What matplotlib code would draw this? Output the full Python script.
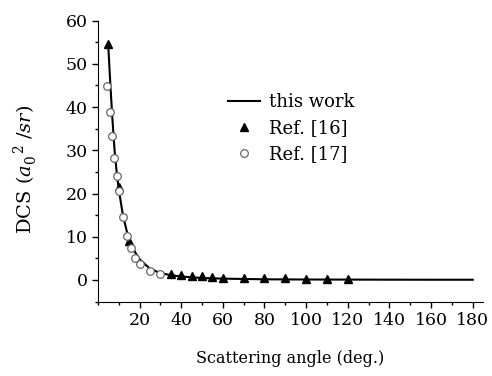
import numpy as np
import matplotlib
matplotlib.use("Agg")
import matplotlib.pyplot as plt
from matplotlib.ticker import MultipleLocator

plt.rcParams['font.family'] = ['DejaVu Serif']
plt.rcParams['mathtext.fontset'] = 'dejavuserif'

# this work (calculated curve)
calc_angle = [5, 6, 7, 8, 9, 10, 12, 14, 16, 18, 20, 25, 30, 35, 40, 50, 60, 80, 100, 120, 140, 160, 180]
calc_dcs = [54, 45, 37, 30, 25, 21, 15, 11, 8.2, 6.3, 4.8, 2.6, 1.6, 1.1, 0.8, 0.45, 0.3, 0.15, 0.1, 0.08, 0.06, 0.05, 0.05]

# Ref. [16]
ref16_angle = [5, 10, 15, 35, 40, 45, 50, 55, 60, 70, 80, 90, 100, 110, 120]
ref16_dcs = [54.5, 21.6, 9.0, 1.4, 1.2, 1.0, 0.8, 0.6, 0.5, 0.45, 0.4, 0.35, 0.3, 0.3, 0.3]

# Ref. [17]
ref17_angle = [4.5, 6, 7, 7.5, 9, 10, 12, 14, 16, 18, 20, 25, 30]
ref17_dcs = [44.8, 38.8, 33.2, 28.3, 24.0, 20.5, 14.5, 10.2, 7.3, 5.1, 3.7, 2.1, 1.4]

fig = plt.figure(figsize=(4.92, 3.76), dpi=100)
ax = fig.add_axes([0.199, 0.198, 0.783, 0.747])

ax.plot(calc_angle, calc_dcs, color='black', lw=1.5, label='this work')
ax.plot(ref16_angle, ref16_dcs, ls='none', marker='^', ms=6, color='black', label='Ref. [16]')
ax.plot(ref17_angle, ref17_dcs, ls='none', marker='o', ms=5.5, mfc='white', mec='#666666', mew=0.9, label='Ref. [17]')

ax.set_xlim(0, 185)
ax.set_ylim(-5, 60)
ax.xaxis.set_major_locator(MultipleLocator(20))
ax.xaxis.set_minor_locator(MultipleLocator(10))
ax.yaxis.set_major_locator(MultipleLocator(10))
ax.yaxis.set_minor_locator(MultipleLocator(5))
ax.set_xticks([20, 40, 60, 80, 100, 120, 140, 160, 180])
ax.spines['top'].set_visible(False)
ax.spines['right'].set_visible(False)
ax.tick_params(which='major', direction='out', length=4, width=1, labelsize=12.5)
ax.tick_params(which='minor', direction='out', length=2.5, width=1)

ax.set_xlabel('Scattering angle (deg.)', fontsize=11.5)
ax.set_ylabel(r'DCS ($a_0^{\;\;\;2}\;/sr$)', fontsize=14)
ax.xaxis.set_label_coords(0.5, -0.172)
ax.yaxis.set_label_coords(-0.15, 0.47)

ax.legend(loc='upper left', bbox_to_anchor=(0.295, 0.80), frameon=False, fontsize=13,
          handlelength=1.8, handletextpad=0.5, labelspacing=0.45)

fig.savefig('out.png', dpi=100)
